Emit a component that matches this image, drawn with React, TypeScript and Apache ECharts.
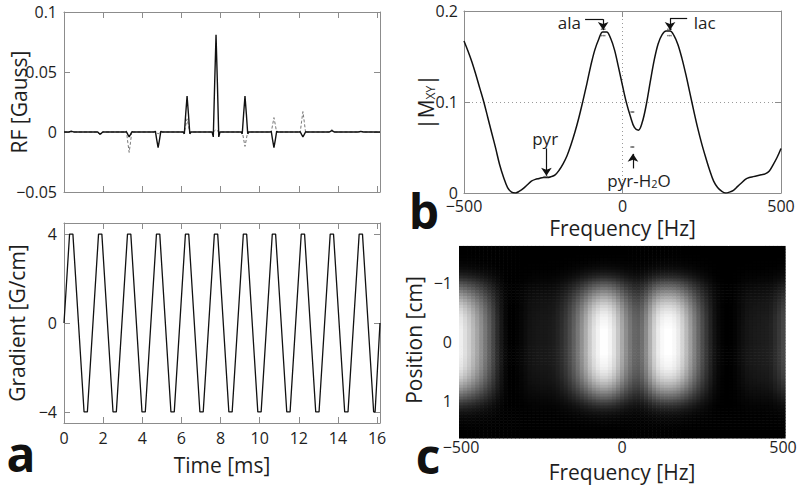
import React, { useEffect, useRef } from 'react';
import * as echarts from 'echarts';

// ---------- Panel a: RF pulse train ----------
const timeMax = 16.15;
const timeTicks = [0, 2, 4, 6, 8, 10, 12, 14, 16];
const rfPulseCenters = [0.37, 1.85, 3.33, 4.81, 6.29, 7.77, 9.25, 10.73, 12.21, 13.69, 15.17];
const rfSolidPeaks = [0.0006, -0.0018, -0.004, -0.013, 0.03, 0.081, 0.03, -0.013, -0.004, 0.0012, 0.0005];
const rfDashedPeaks = [0.0003, -0.0025, -0.017, -0.0015, 0.011, 0.002, -0.012, 0.012, 0.017, 0.002, 0.0004];
const pulseShapeOffsets = [-0.2, -0.14, -0.07, 0, 0.07, 0.14, 0.2];
const pulseShapeGains = [0, -0.05, 0.5, 1, 0.5, -0.05, 0];

// ---------- Panel a: gradient waveform (vertices) ----------
const gradTimes = [
  0, 0.285, 0.455, 1.025, 1.195, 1.765, 1.935, 2.505, 2.675, 3.245, 3.415, 3.985, 4.155,
  4.725, 4.895, 5.465, 5.635, 6.205, 6.375, 6.945, 7.115, 7.685, 7.855, 8.425, 8.595,
  9.165, 9.335, 9.905, 10.075, 10.645, 10.815, 11.385, 11.555, 12.125, 12.295, 12.865, 13.035,
  13.605, 13.775, 14.345, 14.515, 15.085, 15.255, 15.825, 15.9, 16.15,
];
const gradValues = [
  0, 4, 4, -4, -4, 4, 4, -4, -4, 4, 4, -4, -4,
  4, 4, -4, -4, 4, 4, -4, -4, 4, 4, -4, -4,
  4, 4, -4, -4, 4, 4, -4, -4, 4, 4, -4, -4,
  4, 4, -4, -4, 4, 4, -4, -4, 0,
];
const gradTicks = [-4, 0, 4];

// ---------- Panel b: |Mxy| vs frequency ----------
const freqs = [
  -500, -487.5, -475, -462.5, -450, -437.5, -425, -412.5, -400, -387.5, -375, -362.5, -350, -337.5,
  -325, -312.5, -300, -287.5, -275, -262.5, -250, -237.5, -225, -212.5, -200, -187.5, -175, -162.5,
  -150, -137.5, -125, -112.5, -100, -87.5, -75, -62.5, -50, -37.5, -25, -12.5, 0, 12.5, 25, 37.5,
  50, 62.5, 75, 87.5, 100, 112.5, 125, 137.5, 150, 162.5, 175, 187.5, 200, 212.5, 225, 237.5, 250,
  262.5, 275, 287.5, 300, 312.5, 325, 337.5, 350, 362.5, 375, 387.5, 400, 412.5, 425, 437.5, 450,
  462.5, 475, 487.5, 500,
];
const mxy = [
  0.167, 0.156, 0.144, 0.13, 0.115, 0.1, 0.083, 0.066, 0.049, 0.031, 0.017, 0.006, 0.001, 0.0,
  0.002, 0.005, 0.009, 0.013, 0.015, 0.016, 0.017, 0.017, 0.018, 0.02, 0.025, 0.032, 0.041, 0.053,
  0.067, 0.083, 0.101, 0.12, 0.14, 0.157, 0.169, 0.177, 0.177, 0.17, 0.157, 0.138, 0.118, 0.099, 0.084, 0.072,
  0.069, 0.078, 0.097, 0.122, 0.146, 0.164, 0.174, 0.178, 0.178, 0.173, 0.163, 0.148, 0.13, 0.11, 0.09, 0.071, 0.054,
  0.039, 0.025, 0.013, 0.006, 0.002, 0.0, 0.001, 0.003, 0.007, 0.011, 0.015, 0.017, 0.018, 0.019, 0.02, 0.021,
  0.024, 0.031, 0.039, 0.049,
];
const markerDots = [
  [-66, 0.18], [-61, 0.18], [-56, 0.18], [-66, 0.173], [-61, 0.173], [-56, 0.173],
  [143, 0.18], [148, 0.18], [153, 0.18], [143, 0.173], [148, 0.173], [153, 0.173],
  [-247, 0.018], [-242, 0.018], [-237, 0.018],
  [27, 0.0505], [31, 0.0505], [35, 0.0505], [27, 0.089], [31, 0.089], [35, 0.089],
];
const annotationTexts = ['ala', 'lac', 'pyr', 'pyr-H{s|2}O'];
const annotationPos = [[-126, 0.187], [220, 0.187], [-244, 0.06], [52, 0.014]];
const annotationAnchor = ['left', 'right', 'inside', 'inside'];
const arrowSegments: [number[], number[], boolean][] = [
  [[-118, 0.191], [-61, 0.191], false],
  [[-61, 0.191], [-61, 0.179], true],
  [[204, 0.192], [150, 0.192], false],
  [[150, 0.192], [150, 0.179], true],
  [[-240, 0.049], [-240, 0.019], true],
  [[33, 0.027], [33, 0.043], true],
];

// ---------- Panel c: position profile ----------
const positions = [
  -1.6, -1.55, -1.5, -1.45, -1.4, -1.35, -1.3, -1.25, -1.2, -1.15, -1.1, -1.05, -1.0, -0.95, -0.9, -0.85,
  -0.8, -0.75, -0.7, -0.65, -0.6, -0.55, -0.5, -0.45, -0.4, -0.35, -0.3, -0.25, -0.2, -0.15, -0.1, -0.05,
  0, 0.05, 0.1, 0.15, 0.2, 0.25, 0.3, 0.35, 0.4, 0.45, 0.5, 0.55, 0.6, 0.65, 0.7, 0.75, 0.8, 0.85,
  0.9, 0.95, 1.0, 1.05, 1.1, 1.15, 1.2, 1.25, 1.3, 1.35, 1.4, 1.45, 1.5, 1.55, 1.6,
];
const profile = [
  0, 0, 0, 0.005, 0.01, 0.02, 0.03, 0.05, 0.08, 0.12, 0.17, 0.24, 0.32, 0.39, 0.46, 0.53,
  0.6, 0.67, 0.73, 0.79, 0.84, 0.88, 0.91, 0.94, 0.96, 0.97, 0.98, 0.99, 1, 1, 1, 1,
  1, 1, 1, 1, 1, 0.99, 0.98, 0.97, 0.96, 0.94, 0.91, 0.88, 0.84, 0.79, 0.73, 0.67, 0.6, 0.53,
  0.45, 0.38, 0.3, 0.23, 0.17, 0.12, 0.08, 0.05, 0.03, 0.02, 0.01, 0.005, 0, 0, 0,
];
const posTicks = [-1, 0, 1];

const FONT = '"Open Sans", "Noto Sans", sans-serif';
const FRAME = '#8c8c8c';
const TXT = '#1e1e1e';

const fmt = (v: number) => (v < 0 ? '\u2212' + String(Math.abs(+v.toFixed(4))) : String(+v.toFixed(4)));

function rfLine(peaks: number[]) {
  const pts: number[][] = [[0, 0]];
  rfPulseCenters.forEach((c, i) => {
    pulseShapeOffsets.forEach((o, k) => pts.push([c + o, peaks[i] * pulseShapeGains[k]]));
  });
  pts.push([timeMax, 0]);
  return pts;
}

function frameAxis(extra: any) {
  return {
    type: 'value',
    nameMoveOverlap: false,
    axisLine: { show: true, onZero: false, lineStyle: { color: FRAME, width: 1 } },
    axisTick: { show: true, inside: true, length: 6, lineStyle: { color: FRAME } },
    axisLabel: { show: false },
    splitLine: { show: false },
    ...extra,
  };
}
const lbl = (extra: any = {}) => ({
  show: true, color: TXT, fontSize: 16, fontFamily: FONT, formatter: fmt,
  showMinLabel: true, showMaxLabel: true, ...extra,
});
const nameStyle = { color: TXT, fontSize: 21, fontFamily: FONT };
const timeTick = { show: true, inside: true, length: 6, customValues: timeTicks, lineStyle: { color: FRAME } };
const gradTick = { show: true, inside: true, length: 6, customValues: gradTicks, lineStyle: { color: FRAME } };
const dotted = { show: true, lineStyle: { color: '#9a9a9a', type: [1, 3], width: 1 } };

export default function App() {
  const ref = useRef<HTMLDivElement>(null);
  useEffect(() => {
    const chart = echarts.init(ref.current!, null, { renderer: 'svg' });
    const heat: number[][] = [];
    freqs.forEach((f, i) => positions.forEach((p, j) => heat.push([f, p, mxy[i] * profile[j]])));

    const option: any = {
      animation: false,
      backgroundColor: '#fff',
      grid: [
        { left: 64, top: 12, width: 316, height: 180 },
        { left: 64, top: 223, width: 316, height: 200 },
        { left: 464, top: 11, width: 317, height: 182 },
        { left: 461, top: 248, width: 322, height: 184 },
      ],
      xAxis: [
        frameAxis({ gridIndex: 0, position: 'bottom', min: 0, max: timeMax, axisTick: timeTick }),
        frameAxis({ gridIndex: 0, position: 'top', min: 0, max: timeMax, axisTick: timeTick }),
        frameAxis({ gridIndex: 1, position: 'bottom', min: 0, max: timeMax, axisTick: timeTick,
          axisLabel: lbl({ customValues: timeTicks, margin: 7 }),
          name: 'Time [ms]', nameLocation: 'middle', nameGap: 31, nameTextStyle: nameStyle }),
        frameAxis({ gridIndex: 1, position: 'top', min: 0, max: timeMax, axisTick: timeTick }),
        frameAxis({ gridIndex: 2, position: 'bottom', min: -500, max: 500, interval: 500,
          axisLabel: lbl({ margin: 5 }), splitLine: dotted,
          name: 'Frequency [Hz]', nameLocation: 'middle', nameGap: 24, nameTextStyle: nameStyle }),
        frameAxis({ gridIndex: 2, position: 'top', min: -500, max: 500, interval: 500 }),
        frameAxis({ gridIndex: 3, position: 'bottom', min: -500, max: 500, interval: 500,
          axisTick: { show: false }, axisLabel: lbl({ margin: 7 }),
          name: 'Frequency [Hz]', nameLocation: 'middle', nameGap: 29, nameTextStyle: nameStyle }),
        frameAxis({ gridIndex: 3, position: 'top', min: -500, max: 500, interval: 500, axisTick: { show: false } }),
      ],
      yAxis: [
        frameAxis({ gridIndex: 0, position: 'left', min: -0.05, max: 0.1, interval: 0.05,
          axisLabel: lbl({ margin: 7 }),
          name: 'RF [Gauss]', nameLocation: 'middle', nameGap: 35, nameTextStyle: nameStyle }),
        frameAxis({ gridIndex: 0, position: 'right', min: -0.05, max: 0.1, interval: 0.05 }),
        frameAxis({ gridIndex: 1, position: 'left', min: -4.5, max: 4.5, axisTick: gradTick,
          axisLabel: lbl({ customValues: gradTicks, margin: 7 }),
          name: 'Gradient [G/cm]', nameLocation: 'middle', nameGap: 37, nameTextStyle: nameStyle }),
        frameAxis({ gridIndex: 1, position: 'right', min: -4.5, max: 4.5, axisTick: gradTick }),
        frameAxis({ gridIndex: 2, position: 'left', min: 0, max: 0.2, interval: 0.1,
          axisLabel: lbl({ margin: 6 }), splitLine: dotted,
          name: '|M{s|XY}|', nameLocation: 'middle', nameGap: 28,
          nameTextStyle: { ...nameStyle, rich: { s: { fontSize: 12, fontFamily: FONT, color: TXT, verticalAlign: 'bottom', lineHeight: 10 } } } }),
        frameAxis({ gridIndex: 2, position: 'right', min: 0, max: 0.2, interval: 0.1 }),
        frameAxis({ gridIndex: 3, position: 'left', min: -1.59, max: 1.525, inverse: true,
          axisTick: { show: false },
          axisLabel: lbl({ customValues: posTicks, margin: 9 }),
          name: 'Position [cm]', nameLocation: 'middle', nameGap: 37, nameTextStyle: nameStyle }),
        frameAxis({ gridIndex: 3, position: 'right', min: -1.59, max: 1.525, inverse: true, axisTick: { show: false } }),
      ],
      visualMap: {
        type: 'continuous', show: false, min: 0, max: 0.178, dimension: 2, seriesIndex: 5,
        inRange: { color: ['#000000', '#ffffff'] },
      },
      series: [
        {
          type: 'line', xAxisIndex: 0, yAxisIndex: 0, data: rfLine(rfDashedPeaks), showSymbol: false,
          lineStyle: { color: '#777', width: 1, type: [3, 2] }, z: 2,
        },
        {
          type: 'line', xAxisIndex: 0, yAxisIndex: 0, data: rfLine(rfSolidPeaks), showSymbol: false,
          lineStyle: { color: '#111', width: 1.4 }, z: 3,
        },
        {
          type: 'line', xAxisIndex: 2, yAxisIndex: 2, data: gradTimes.map((t, i) => [t, gradValues[i]]),
          showSymbol: false, lineStyle: { color: '#111', width: 1.3 },
        },
        {
          type: 'line', xAxisIndex: 4, yAxisIndex: 4, data: freqs.map((f, i) => [f, mxy[i]]),
          showSymbol: false, smooth: 0.35, lineStyle: { color: '#111', width: 1.5 }, z: 3,
          markLine: {
            silent: true, animation: false, symbolSize: 8, label: { show: false },
            lineStyle: { color: '#111', width: 1.2, type: 'solid' },
            emphasis: { disabled: true },
            data: arrowSegments.map(([a, b, head]) => [
              { coord: a, symbol: 'none' },
              { coord: b, symbol: head ? 'arrow' : 'none', symbolSize: 8 },
            ]),
          },
          markPoint: {
            silent: true, symbol: 'circle', symbolSize: 1, itemStyle: { color: 'rgba(0,0,0,0)' },
            data: annotationTexts.map((t, i) => ({
              coord: annotationPos[i], value: 0,
              label: {
                show: true, formatter: t, position: annotationAnchor[i], distance: 1,
                color: TXT, fontSize: 17, fontFamily: FONT,
                rich: { s: { fontSize: 11, fontFamily: FONT, color: TXT, verticalAlign: 'bottom', lineHeight: 8 } },
              },
            })),
          },
        },
        {
          type: 'scatter', xAxisIndex: 4, yAxisIndex: 4, data: markerDots, symbolSize: 1.6,
          itemStyle: { color: '#555' }, z: 4,
        },
        {
          type: 'custom', xAxisIndex: 6, yAxisIndex: 6, data: heat, clip: true,
          encode: { x: 0, y: 1 },
          renderItem: (params: any, api: any) => {
            const f = api.value(0);
            const p = api.value(1);
            const a = api.coord([f - 6.25, p - 0.025]);
            const b = api.coord([f + 6.25, p + 0.025]);
            return {
              type: 'rect',
              shape: {
                x: Math.min(a[0], b[0]), y: Math.min(a[1], b[1]),
                width: Math.abs(b[0] - a[0]) + 0.6, height: Math.abs(b[1] - a[1]) + 0.6,
              },
              style: { fill: api.visual('color') },
            };
          },
          z: 1,
        },
      ],
      graphic: [
        { type: 'text', x: 21, y: 453, style: { text: 'a', font: `bold 48px ${FONT}`, fill: '#111', align: 'center', verticalAlign: 'middle' } },
        { type: 'text', x: 424, y: 210, style: { text: 'b', font: `bold 48px ${FONT}`, fill: '#111', align: 'center', verticalAlign: 'middle' } },
        { type: 'text', x: 428, y: 455, style: { text: 'c', font: `bold 48px ${FONT}`, fill: '#111', align: 'center', verticalAlign: 'middle' } },
      ],
    };
    chart.setOption(option);
    return () => chart.dispose();
  }, []);
  return (
    <div
      ref={ref}
      style={{ position: 'fixed', left: 0, top: 0, width: 800, height: 485, background: '#fff' }}
    />
  );
}
